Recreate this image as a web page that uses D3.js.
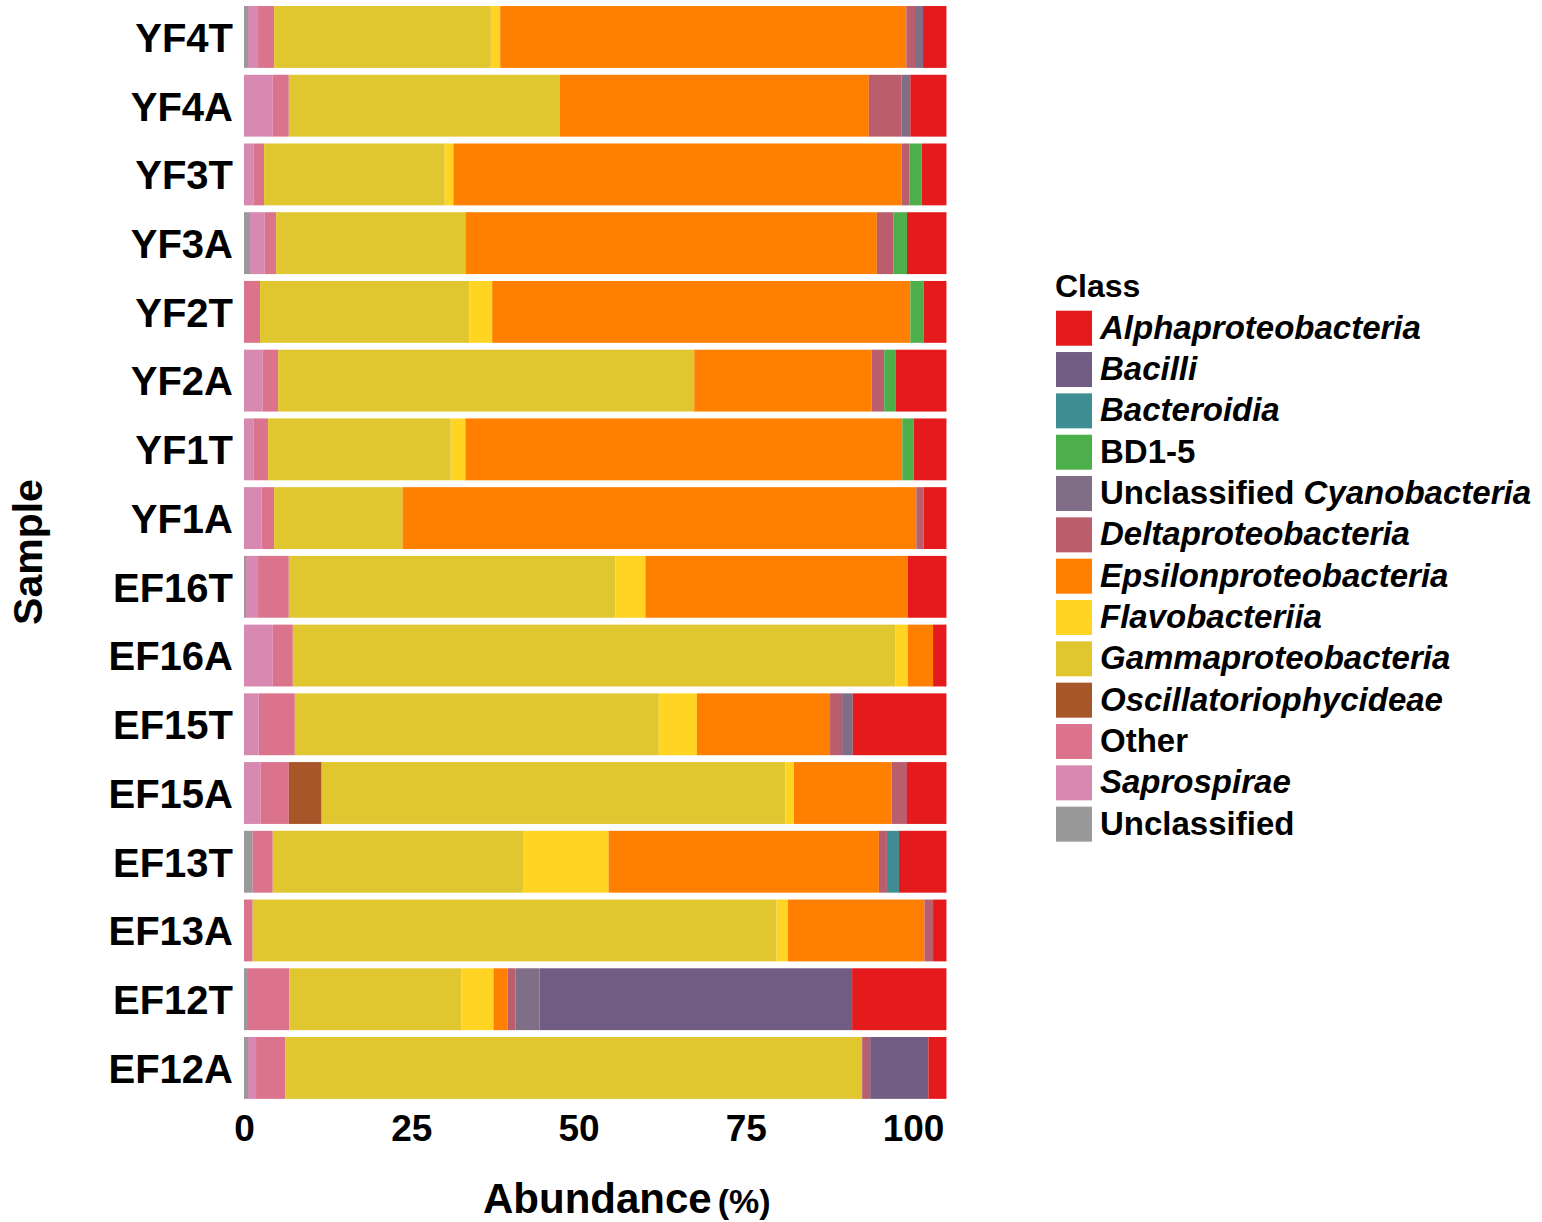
<!DOCTYPE html>
<html>
<head>
<meta charset="utf-8">
<script src="https://cdn.jsdelivr.net/npm/d3@7"></script>
<style>
  html, body { margin: 0; padding: 0; background: #fff; }
  svg { display: block; font-family: "Liberation Sans", Arial, Helvetica, sans-serif; font-weight: bold; }
</style>
</head>
<body>
<div id="chart"></div>
<script>
// Samples, top to bottom
const samples = ["YF4T", "YF4A", "YF3T", "YF3A", "YF2T", "YF2A", "YF1T", "YF1A",
                 "EF16T", "EF16A", "EF15T", "EF15A", "EF13T", "EF13A", "EF12T", "EF12A"];

// Legend order (top to bottom); stacking goes the other way, left to right
const classes = ["Alphaproteobacteria", "Bacilli", "Bacteroidia", "BD1-5",
                 "Unclassified Cyanobacteria", "Deltaproteobacteria", "Epsilonproteobacteria",
                 "Flavobacteriia", "Gammaproteobacteria", "Oscillatoriophycideae",
                 "Other", "Saprospirae", "Unclassified"];

// Abundance (%) per class, one value per sample in the order above
const unclassified  = [0.6, 0,   0,   0.9, 0,   0,   0,   0,    0.3, 0,   0,   0,   1.3, 0,   0.6, 0.6];
const saprospirae   = [1.5, 4.3, 1.4, 2.2, 0,   2.8, 1.4, 2.65, 1.8, 4.3, 2.2, 2.5, 0,   0,   0,   1.2];
const other         = [2.4, 2.4, 1.6, 1.7, 2.4, 2.3, 2.2, 1.85, 4.6, 3.0, 5.4, 4.2, 3.0, 1.3, 6.2, 4.4];
const oscillatorio  = [0,   0,   0,   0,   0,   0,   0,   0,    0,   0,   0,   4.9, 0,   0,   0,   0];
const gammaproteo   = [32.4, 40.5, 27.0, 28.3, 31.3, 62.2, 27.3, 19.2, 48.8, 90.1, 54.4, 69.3, 37.4, 78.3, 25.7, 86.2];
const flavobact     = [1.4, 0,   1.3, 0,   3.4, 0,   2.2, 0,    4.5, 1.8, 5.7, 1.3, 12.8, 1.7, 4.8, 0];
const epsilonproteo = [60.7, 46.2, 67.0, 61.5, 62.5, 26.5, 65.3, 76.8, 39.2, 3.8, 19.9, 14.6, 40.4, 20.4, 2.1, 0];
const deltaproteo   = [1.3, 4.9, 1.2, 2.5, 0,   1.9, 0,   1.1,  0,   0,   1.8, 2.3, 1.2, 1.3, 1.2, 1.2];
const uncCyano      = [1.2, 1.3, 0,   0,   0,   0,   0,   0,    0,   0,   1.6, 0,   0,   0,   3.6, 0];
const bd15          = [0,   0,   1.8, 2.0, 2.0, 1.7, 1.7, 0,    0,   0,   0,   0,   0,   0,   0,   0];
const bacteroidia   = [0,   0,   0,   0,   0,   0,   0,   0,    0,   0,   0,   0,   1.8, 0,   0,   0];
const bacilli       = [0,   0,   0,   0,   0,   0,   0,   0,    0,   0,   0,   0,   0,   0,   46.7, 8.7];
const alphaproteo   = [3.5, 5.4, 3.7, 5.9, 3.4, 7.6, 4.9, 3.4,  5.8, 2.0, 14.0, 5.9, 7.1, 2.0, 14.1, 2.7];

const xTicks = [0, 25, 50, 75, 100];

const seriesByClass = {
  "Alphaproteobacteria": alphaproteo,
  "Bacilli": bacilli,
  "Bacteroidia": bacteroidia,
  "BD1-5": bd15,
  "Unclassified Cyanobacteria": uncCyano,
  "Deltaproteobacteria": deltaproteo,
  "Epsilonproteobacteria": epsilonproteo,
  "Flavobacteriia": flavobact,
  "Gammaproteobacteria": gammaproteo,
  "Oscillatoriophycideae": oscillatorio,
  "Other": other,
  "Saprospirae": saprospirae,
  "Unclassified": unclassified
};

// Legend label parts: [text, italic?]
const labelParts = {
  "BD1-5": [["BD1-5", false]],
  "Other": [["Other", false]],
  "Unclassified": [["Unclassified", false]],
  "Unclassified Cyanobacteria": [["Unclassified ", false], ["Cyanobacteria", true]]
};

// Size
const width = 1542,
      height = 1222;

const svg = d3.select("#chart").append("svg")
    .attr("width", width)
    .attr("height", height);

// Table for the stack
const table = samples.map((s, i) => {
  const row = { sample: s };
  classes.forEach(c => row[c] = seriesByClass[c][i]);
  return row;
});

const stackKeys = classes.slice().reverse();
const stacked = d3.stack().keys(stackKeys)(table);

// Colours: Set1 ramped out to 13 classes
const palette = d3.quantize(d3.piecewise(d3.interpolateRgb, d3.schemeSet1), classes.length);
const color = d3.scaleOrdinal().domain(classes).range(palette);

// Scales
const xScale = d3.scaleLinear()
    .domain([0, 100])
    .range([244, 913]);

const yScale = d3.scaleBand()
    .domain(samples)
    .range([2.6, 1102.3])
    .paddingInner(0.1)
    .paddingOuter(0.05);

// Bars
svg.append("g").attr("class", "chart")
  .selectAll("g")
  .data(stacked)
  .enter().append("g")
    .style("fill", d => color(d.key))
  .selectAll("rect")
  .data(d => d.filter(p => p[1] - p[0] > 0))
  .enter().append("rect")
    .attr("x", d => xScale(d[0]))
    .attr("width", d => xScale(d[1]) - xScale(d[0]))
    .attr("y", d => yScale(d.data.sample))
    .attr("height", yScale.bandwidth());

// Axes
const xAxis = d3.axisBottom(xScale)
    .tickValues(xTicks)
    .tickSize(0)
    .tickPadding(12.7);

const gX = svg.append("g")
    .attr("class", "xAxis")
    .attr("transform", "translate(0,1102)")
    .call(xAxis);

const yAxis = d3.axisLeft(yScale)
    .tickSize(0)
    .tickPadding(11);

const gY = svg.append("g")
    .attr("class", "yAxis")
    .attr("transform", "translate(244,0)")
    .call(yAxis);

gX.select(".domain").remove();
gY.select(".domain").remove();

gX.selectAll("text")
    .style("font-family", "inherit")
    .style("font-weight", "bold")
    .style("font-size", "37px")
    .style("fill", "#000");

gY.selectAll("text")
    .attr("dy", "0.37em")
    .style("font-family", "inherit")
    .style("font-weight", "bold")
    .style("font-size", "40px")
    .style("fill", "#000");

// Axis titles
const xTitle = svg.append("text")
    .attr("x", 483)
    .attr("y", 1213)
    .style("fill", "#000");

xTitle.append("tspan").style("font-size", "42px").text("Abundance");
xTitle.append("tspan").style("font-size", "34px").attr("dx", 6).text("(%)");

svg.append("text")
    .attr("transform", "translate(42,552) rotate(-90)")
    .attr("text-anchor", "middle")
    .style("font-size", "41px")
    .style("fill", "#000")
    .text("Sample");

// Legend
const legend = svg.append("g").attr("class", "legend");

legend.append("text")
    .attr("x", 1055)
    .attr("y", 297)
    .style("font-size", "32px")
    .style("fill", "#000")
    .text("Class");

const item = legend.selectAll(".item")
    .data(classes)
  .enter().append("g")
    .attr("class", "item")
    .attr("transform", (d, i) => "translate(1056," + (310.7 + i * 41.33) + ")");

item.append("rect")
    .attr("width", 36)
    .attr("height", 35)
    .style("fill", d => color(d));

item.append("text")
    .attr("x", 44)
    .attr("y", 28)
    .style("font-size", "33px")
    .style("fill", "#000")
    .each(function(d) {
      const parts = labelParts[d] || [[d, true]];
      d3.select(this).selectAll("tspan")
          .data(parts)
        .enter().append("tspan")
          .style("font-style", p => p[1] ? "italic" : "normal")
          .text(p => p[0]);
    });
</script>
</body>
</html>
